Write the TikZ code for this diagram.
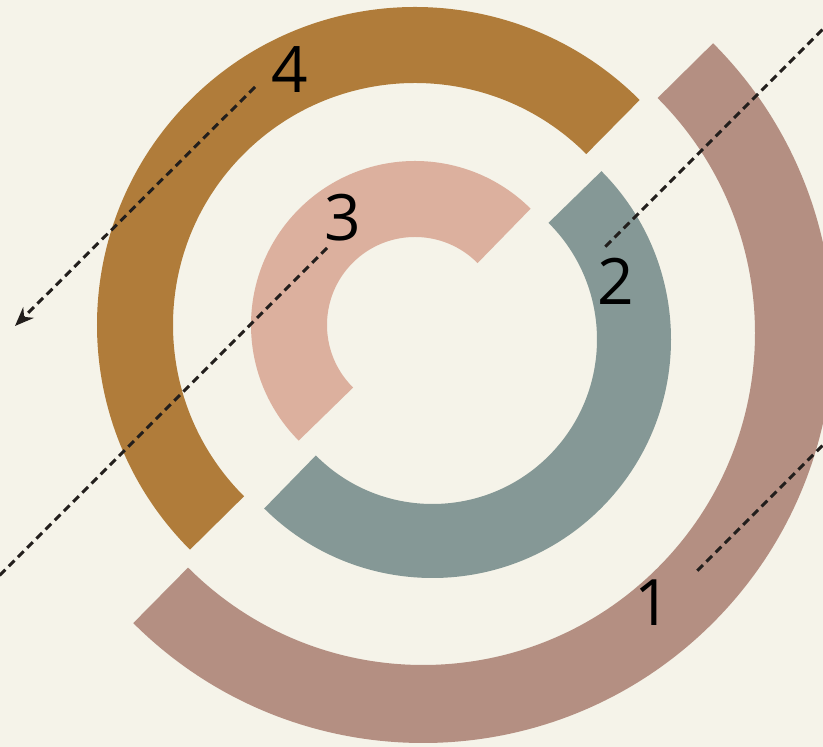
\documentclass[tikz,border=0pt]{standalone}
\usepackage{fontspec}
\newfontfamily\digitfont{Open Sans}
\usepackage{tikz}
\usetikzlibrary{arrows.meta}
\definecolor{paper}{RGB}{245,243,233}
\definecolor{ochre}{RGB}{176,124,58}
\definecolor{rosebrown}{RGB}{180,143,130}
\definecolor{blush}{RGB}{220,176,158}
\definecolor{sage}{RGB}{133,152,150}
\definecolor{inkdark}{RGB}{34,30,28}
\tikzset{
    band/.style={draw=#1, line cap=butt},
    guide/.style={draw=inkdark, line width=3pt, dash pattern=on 8pt off 5pt},
    guidearr/.style={guide, -{Stealth[length=19pt,width=15pt]}},
    num/.style={font=\digitfont\fontsize{64}{64}\selectfont, inner sep=0pt, text=black},
}

\begin{document}
\begin{tikzpicture}[x=1pt,y=1pt]
    \useasboundingbox (0,0) rectangle (823,747);
    \fill[paper] (0,0) rectangle (823,747);
    \clip (0,0) rectangle (823,747);

    % centres of the half rings
    \coordinate (c34) at (415,422);
    \coordinate (c2)  at (432.5,407.5);
    \coordinate (c1)  at (423,414);

    % upper-left halves
    \draw[band=ochre, line width=76pt]
        ([shift={(45:280pt)}]c34) arc[start angle=45, end angle=225, radius=280pt];
    \draw[band=blush, line width=76pt]
        ([shift={(45:126pt)}]c34) arc[start angle=45, end angle=225, radius=126pt];
    % lower-right halves
    \draw[band=sage, line width=74pt]
        ([shift={(45:201.5pt)}]c2) arc[start angle=45, end angle=-135, radius=201.5pt];
    \draw[band=rosebrown, line width=78pt]
        ([shift={(45:371pt)}]c1) arc[start angle=45, end angle=-135, radius=371pt];

    \node[num] (n1) at (653,144) {1};
    \node[num] (n2) at (616,466) {2};
    \node[num] (n3) at (343,529) {3};
    \node[num] (n4) at (290,677) {4};

    \coordinate (g1a) at (850,329);
    \coordinate (g1b) at (697,176);
    \coordinate (g2a) at (850,745);
    \coordinate (g2b) at (603,498);
    \coordinate (g3a) at (327,499);
    \coordinate (g3b) at (-20,152);
    \coordinate (g4a) at (255,660);
    \coordinate (g4b) at (15,421);

    \draw[guide] (g1a) -- (g1b);
    \draw[guide] (g2a) -- (g2b);
    \draw[guide] (g3a) -- (g3b);
    \draw[guidearr] (g4a) -- (g4b);
\end{tikzpicture}
\end{document}
